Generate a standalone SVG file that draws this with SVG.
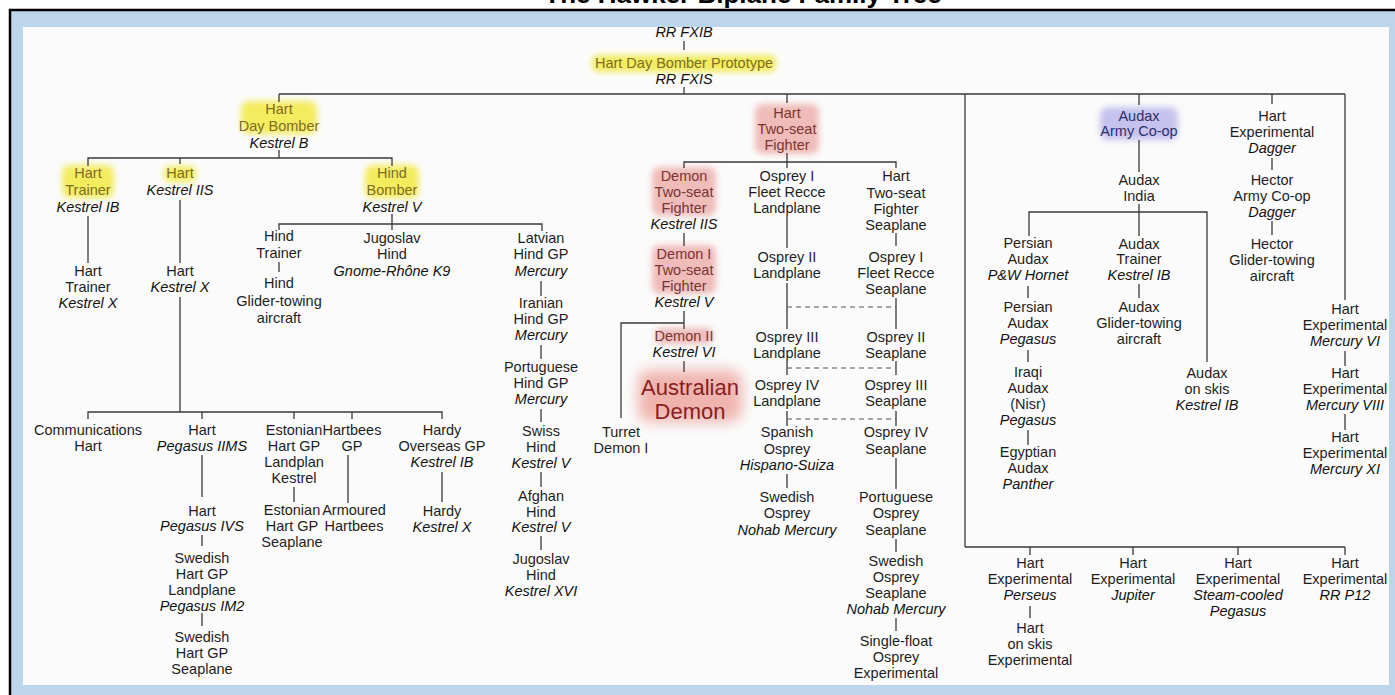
<svg xmlns="http://www.w3.org/2000/svg" width="1395" height="695" viewBox="0 0 1395 695">
<defs>
<style>
.t{font-family:"Liberation Sans",Arial,sans-serif;font-size:14.5px;fill:#1e1e1e;text-anchor:middle}
.i{font-style:italic;fill:#111}
.y{fill:#7f6c22}
.p{fill:#7b3434}
.b{fill:#2e2f6b}
.ln{fill:none;stroke:#3a3a3a;stroke-width:1.3}
.ds{fill:none;stroke:#555;stroke-width:1.2;stroke-dasharray:5 4}
.hy{fill:#f3ec5e;filter:url(#glow)}
.hp{fill:#efbcb9;filter:url(#glow)}
.hb{fill:#c6c2ee;filter:url(#glow)}
</style>
<filter id="glow" x="-50%" y="-50%" width="200%" height="200%"><feGaussianBlur stdDeviation="3"/></filter>
<filter id="glow2" x="-50%" y="-50%" width="200%" height="200%"><feGaussianBlur stdDeviation="7"/></filter>
<clipPath id="inner"><rect x="23" y="27" width="1366" height="658"/></clipPath>
</defs>
<rect x="0" y="0" width="1395" height="695" fill="#ffffff"/>
<text x="743" y="3" style="font-family:'Liberation Sans',Arial,sans-serif;font-size:26px;font-weight:bold;fill:#000;text-anchor:middle">The Hawker Biplane Family Tree</text>
<rect x="10" y="10" width="1400" height="700" fill="#bdd5ea" stroke="#000" stroke-width="2.5"/>
<rect x="23" y="27" width="1366" height="658" fill="#fbfbfb"/>
<g clip-path="url(#inner)">
<g id="highlights">
<rect class="hy" x="592" y="55" width="184" height="17" rx="6"/>
<rect class="hy" x="241" y="101" width="76" height="33" rx="8"/>
<rect class="hy" x="62" y="165" width="52" height="33" rx="8"/>
<rect class="hy" x="164" y="166" width="32" height="16" rx="6"/>
<rect class="hy" x="365" y="165" width="54" height="33" rx="8"/>
<rect class="hp" x="755" y="104" width="64" height="50" rx="8"/>
<rect class="hp" x="652" y="167" width="64" height="49" rx="8"/>
<rect class="hp" x="652" y="245" width="64" height="49" rx="8"/>
<rect class="hp" x="655" y="328" width="58" height="16" rx="6"/>
<rect x="638" y="370" width="104" height="52" rx="12" fill="#efb4ae" filter="url(#glow2)"/>
<rect class="hb" x="1100" y="107" width="78" height="33" rx="8"/>
</g>
<g id="connectors">
<path class="ln" d="M684 41V50M684 87V94M279 94H1345M279 94V102M787 94V103M965 94V547M1139 94V105M1272 94V104M1345 94V300"/>
<path class="ln" d="M279 150V158M88 166V158H392V166M180 158V164M392 214V224M279 230V224H542V231M392 224V230M88 216V263M180 200V263M279 262V272M180 297V412M88 419V412H442V419M202 412V419M294 412V419M352 412V419M202 455V497M294 487V502M348 455V503M442 472V502M202 535V546M202 613V626M541 281V296M541 345V359M541 409V422M541 472V487M541 536V550"/>
<path class="ln" d="M787 153V162M684 168V162H896V168M787 162V168M684 233V246M684 311V329M684 323H621V418M684 361V372M787 216V248M787 283V329M787 361V375M787 411V426M787 474V488M896 233V246M896 298V329M896 361V375M896 411V426M896 458V489M896 539V552M896 618V631"/>
<path class="ds" d="M787 307H896M787 368H896M787 419H896"/>
<path class="ln" d="M1139 140V172M1139 204V236M1029 236V212H1207V362M1028 286V298M1028 350V362M1028 430V445M1139 284V298M1272 158V170M1272 221V235M1345 351V366M1345 414V430M965 547H1345M1030 547V555M1133 547V555M1238 547V555M1345 547V555M1030 606V618"/>
</g>
<g id="n-rr-fxib"><text class="t i" x="684" y="37">RR FXIB</text></g>
<g id="n-prototype"><text class="t"><tspan class="y" x="684" y="68">Hart Day Bomber Prototype</tspan><tspan class="i" x="684" y="84">RR FXIS</tspan></text></g>
<g id="n-hart-day-bomber"><text class="t"><tspan class="y" x="279" y="114">Hart</tspan><tspan class="y" x="279" y="131">Day Bomber</tspan><tspan class="i" x="279" y="148">Kestrel B</tspan></text></g>
<g id="n-hart-trainer-ib"><text class="t"><tspan class="y" x="88" y="178">Hart</tspan><tspan class="y" x="88" y="195">Trainer</tspan><tspan class="i" x="88" y="212">Kestrel IB</tspan></text></g>
<g id="n-hart-kestrel-iis"><text class="t"><tspan class="y" x="180" y="178">Hart</tspan><tspan class="i" x="180" y="195">Kestrel IIS</tspan></text></g>
<g id="n-hind-bomber"><text class="t"><tspan class="y" x="392" y="178">Hind</tspan><tspan class="y" x="392" y="195">Bomber</tspan><tspan class="i" x="392" y="212">Kestrel V</tspan></text></g>
<g id="n-hind-trainer"><text class="t"><tspan x="279" y="241">Hind</tspan><tspan x="279" y="258">Trainer</tspan></text></g>
<g id="n-hind-glider"><text class="t"><tspan x="279" y="288">Hind</tspan><tspan x="279" y="306">Glider-towing</tspan><tspan x="279" y="323">aircraft</tspan></text></g>
<g id="n-jugoslav-hind-k9"><text class="t"><tspan x="392" y="243">Jugoslav</tspan><tspan x="392" y="259">Hind</tspan><tspan class="i" x="392" y="276">Gnome-Rhône K9</tspan></text></g>
<g id="n-latvian"><text class="t"><tspan x="541" y="243">Latvian</tspan><tspan x="541" y="259">Hind GP</tspan><tspan class="i" x="541" y="276">Mercury</tspan></text></g>
<g id="n-iranian"><text class="t"><tspan x="541" y="308">Iranian</tspan><tspan x="541" y="324">Hind GP</tspan><tspan class="i" x="541" y="340">Mercury</tspan></text></g>
<g id="n-portuguese-hind"><text class="t"><tspan x="541" y="372">Portuguese</tspan><tspan x="541" y="388">Hind GP</tspan><tspan class="i" x="541" y="404">Mercury</tspan></text></g>
<g id="n-swiss"><text class="t"><tspan x="541" y="436">Swiss</tspan><tspan x="541" y="452">Hind</tspan><tspan class="i" x="541" y="468">Kestrel V</tspan></text></g>
<g id="n-afghan"><text class="t"><tspan x="541" y="501">Afghan</tspan><tspan x="541" y="517">Hind</tspan><tspan class="i" x="541" y="532">Kestrel V</tspan></text></g>
<g id="n-jugoslav-xvi"><text class="t"><tspan x="541" y="564">Jugoslav</tspan><tspan x="541" y="580">Hind</tspan><tspan class="i" x="541" y="596">Kestrel XVI</tspan></text></g>
<g id="n-hart-trainer-x"><text class="t"><tspan x="88" y="276">Hart</tspan><tspan x="88" y="292">Trainer</tspan><tspan class="i" x="88" y="308">Kestrel X</tspan></text></g>
<g id="n-hart-kestrel-x"><text class="t"><tspan x="180" y="276">Hart</tspan><tspan class="i" x="180" y="292">Kestrel X</tspan></text></g>
<g id="n-communications"><text class="t"><tspan x="88" y="435">Communications</tspan><tspan x="88" y="451">Hart</tspan></text></g>
<g id="n-hart-iims"><text class="t"><tspan x="202" y="435">Hart</tspan><tspan class="i" x="202" y="451">Pegasus IIMS</tspan></text></g>
<g id="n-estonian-land"><text class="t"><tspan x="294" y="435">Estonian</tspan><tspan x="294" y="451">Hart GP</tspan><tspan x="294" y="467">Landplan</tspan><tspan x="294" y="483">Kestrel</tspan></text></g>
<g id="n-hartbees"><text class="t"><tspan x="352" y="435">Hartbees</tspan><tspan x="352" y="451">GP</tspan></text></g>
<g id="n-hardy-overseas"><text class="t"><tspan x="442" y="435">Hardy</tspan><tspan x="442" y="451">Overseas GP</tspan><tspan class="i" x="442" y="467">Kestrel IB</tspan></text></g>
<g id="n-hart-ivs"><text class="t"><tspan x="202" y="516">Hart</tspan><tspan class="i" x="202" y="531">Pegasus IVS</tspan></text></g>
<g id="n-estonian-sea"><text class="t"><tspan x="292" y="515">Estonian</tspan><tspan x="292" y="531">Hart GP</tspan><tspan x="292" y="547">Seaplane</tspan></text></g>
<g id="n-armoured-hartbees"><text class="t"><tspan x="354" y="515">Armoured</tspan><tspan x="354" y="531">Hartbees</tspan></text></g>
<g id="n-hardy-x"><text class="t"><tspan x="442" y="516">Hardy</tspan><tspan class="i" x="442" y="532">Kestrel X</tspan></text></g>
<g id="n-swedish-hart-land"><text class="t"><tspan x="202" y="563">Swedish</tspan><tspan x="202" y="579">Hart GP</tspan><tspan x="202" y="595">Landplane</tspan><tspan class="i" x="202" y="611">Pegasus IM2</tspan></text></g>
<g id="n-swedish-hart-sea"><text class="t"><tspan x="202" y="642">Swedish</tspan><tspan x="202" y="658">Hart GP</tspan><tspan x="202" y="674">Seaplane</tspan></text></g>
<g id="n-hart-two-seat"><text class="t"><tspan class="p" x="787" y="118">Hart</tspan><tspan class="p" x="787" y="134">Two-seat</tspan><tspan class="p" x="787" y="150">Fighter</tspan></text></g>
<g id="n-demon"><text class="t"><tspan class="p" x="684" y="181">Demon</tspan><tspan class="p" x="684" y="197">Two-seat</tspan><tspan class="p" x="684" y="213">Fighter</tspan><tspan class="i" x="684" y="229">Kestrel IIS</tspan></text></g>
<g id="n-demon-i"><text class="t"><tspan class="p" x="684" y="259">Demon I</tspan><tspan class="p" x="684" y="275">Two-seat</tspan><tspan class="p" x="684" y="291">Fighter</tspan><tspan class="i" x="684" y="307">Kestrel V</tspan></text></g>
<g id="n-demon-ii"><text class="t"><tspan class="p" x="684" y="341">Demon II</tspan><tspan class="i" x="684" y="357">Kestrel VI</tspan></text></g>
<g id="n-australian-demon"><text style="font-family:'Liberation Sans',Arial,sans-serif;font-size:22px;fill:#8a1d1d;text-anchor:middle"><tspan x="690" y="395">Australian</tspan><tspan x="690" y="419">Demon</tspan></text></g>
<g id="n-turret-demon"><text class="t"><tspan x="621" y="437">Turret</tspan><tspan x="621" y="453">Demon I</tspan></text></g>
<g id="n-osprey-i-land"><text class="t"><tspan x="787" y="181">Osprey I</tspan><tspan x="787" y="197">Fleet Recce</tspan><tspan x="787" y="213">Landplane</tspan></text></g>
<g id="n-osprey-ii-land"><text class="t"><tspan x="787" y="262">Osprey II</tspan><tspan x="787" y="278">Landplane</tspan></text></g>
<g id="n-osprey-iii-land"><text class="t"><tspan x="787" y="342">Osprey III</tspan><tspan x="787" y="358">Landplane</tspan></text></g>
<g id="n-osprey-iv-land"><text class="t"><tspan x="787" y="390">Osprey IV</tspan><tspan x="787" y="406">Landplane</tspan></text></g>
<g id="n-spanish-osprey"><text class="t"><tspan x="787" y="437">Spanish</tspan><tspan x="787" y="454">Osprey</tspan><tspan class="i" x="787" y="470">Hispano-Suiza</tspan></text></g>
<g id="n-swedish-osprey"><text class="t"><tspan x="787" y="502">Swedish</tspan><tspan x="787" y="518">Osprey</tspan><tspan class="i" x="787" y="535">Nohab Mercury</tspan></text></g>
<g id="n-hart-seaplane"><text class="t"><tspan x="896" y="181">Hart</tspan><tspan x="896" y="198">Two-seat</tspan><tspan x="896" y="214">Fighter</tspan><tspan x="896" y="230">Seaplane</tspan></text></g>
<g id="n-osprey-i-sea"><text class="t"><tspan x="896" y="262">Osprey I</tspan><tspan x="896" y="278">Fleet Recce</tspan><tspan x="896" y="294">Seaplane</tspan></text></g>
<g id="n-osprey-ii-sea"><text class="t"><tspan x="896" y="342">Osprey II</tspan><tspan x="896" y="358">Seaplane</tspan></text></g>
<g id="n-osprey-iii-sea"><text class="t"><tspan x="896" y="390">Osprey III</tspan><tspan x="896" y="406">Seaplane</tspan></text></g>
<g id="n-osprey-iv-sea"><text class="t"><tspan x="896" y="437">Osprey IV</tspan><tspan x="896" y="454">Seaplane</tspan></text></g>
<g id="n-portuguese-osprey"><text class="t"><tspan x="896" y="502">Portuguese</tspan><tspan x="896" y="518">Osprey</tspan><tspan x="896" y="535">Seaplane</tspan></text></g>
<g id="n-swedish-osprey-sea"><text class="t"><tspan x="896" y="566">Swedish</tspan><tspan x="896" y="582">Osprey</tspan><tspan x="896" y="598">Seaplane</tspan><tspan class="i" x="896" y="614">Nohab Mercury</tspan></text></g>
<g id="n-single-float"><text class="t"><tspan x="896" y="646">Single-float</tspan><tspan x="896" y="662">Osprey</tspan><tspan x="896" y="678">Experimental</tspan></text></g>
<g id="n-audax-army"><text class="t"><tspan class="b" x="1139" y="121">Audax</tspan><tspan class="b" x="1139" y="136">Army Co-op</tspan></text></g>
<g id="n-audax-india"><text class="t"><tspan x="1139" y="185">Audax</tspan><tspan x="1139" y="201">India</tspan></text></g>
<g id="n-persian-hornet"><text class="t"><tspan x="1028" y="248">Persian</tspan><tspan x="1028" y="264">Audax</tspan><tspan class="i" x="1028" y="280">P&amp;W Hornet</tspan></text></g>
<g id="n-persian-pegasus"><text class="t"><tspan x="1028" y="312">Persian</tspan><tspan x="1028" y="328">Audax</tspan><tspan class="i" x="1028" y="344">Pegasus</tspan></text></g>
<g id="n-iraqi"><text class="t"><tspan x="1028" y="377">Iraqi</tspan><tspan x="1028" y="393">Audax</tspan><tspan x="1028" y="409">(Nisr)</tspan><tspan class="i" x="1028" y="425">Pegasus</tspan></text></g>
<g id="n-egyptian"><text class="t"><tspan x="1028" y="457">Egyptian</tspan><tspan x="1028" y="473">Audax</tspan><tspan class="i" x="1028" y="489">Panther</tspan></text></g>
<g id="n-audax-trainer"><text class="t"><tspan x="1139" y="249">Audax</tspan><tspan x="1139" y="264">Trainer</tspan><tspan class="i" x="1139" y="280">Kestrel IB</tspan></text></g>
<g id="n-audax-glider"><text class="t"><tspan x="1139" y="312">Audax</tspan><tspan x="1139" y="328">Glider-towing</tspan><tspan x="1139" y="344">aircraft</tspan></text></g>
<g id="n-audax-skis"><text class="t"><tspan x="1207" y="378">Audax</tspan><tspan x="1207" y="394">on skis</tspan><tspan class="i" x="1207" y="410">Kestrel IB</tspan></text></g>
<g id="n-hart-dagger"><text class="t"><tspan x="1272" y="121">Hart</tspan><tspan x="1272" y="137">Experimental</tspan><tspan class="i" x="1272" y="153">Dagger</tspan></text></g>
<g id="n-hector-army"><text class="t"><tspan x="1272" y="185">Hector</tspan><tspan x="1272" y="201">Army Co-op</tspan><tspan class="i" x="1272" y="217">Dagger</tspan></text></g>
<g id="n-hector-glider"><text class="t"><tspan x="1272" y="249">Hector</tspan><tspan x="1272" y="265">Glider-towing</tspan><tspan x="1272" y="281">aircraft</tspan></text></g>
<g id="n-hart-mercury-vi"><text class="t"><tspan x="1345" y="314">Hart</tspan><tspan x="1345" y="330">Experimental</tspan><tspan class="i" x="1345" y="346">Mercury VI</tspan></text></g>
<g id="n-hart-mercury-viii"><text class="t"><tspan x="1345" y="378">Hart</tspan><tspan x="1345" y="394">Experimental</tspan><tspan class="i" x="1345" y="410">Mercury VIII</tspan></text></g>
<g id="n-hart-mercury-xi"><text class="t"><tspan x="1345" y="442">Hart</tspan><tspan x="1345" y="458">Experimental</tspan><tspan class="i" x="1345" y="474">Mercury XI</tspan></text></g>
<g id="n-hart-perseus"><text class="t"><tspan x="1030" y="568">Hart</tspan><tspan x="1030" y="584">Experimental</tspan><tspan class="i" x="1030" y="600">Perseus</tspan></text></g>
<g id="n-hart-skis"><text class="t"><tspan x="1030" y="633">Hart</tspan><tspan x="1030" y="649">on skis</tspan><tspan x="1030" y="665">Experimental</tspan></text></g>
<g id="n-hart-jupiter"><text class="t"><tspan x="1133" y="568">Hart</tspan><tspan x="1133" y="584">Experimental</tspan><tspan class="i" x="1133" y="600">Jupiter</tspan></text></g>
<g id="n-hart-steam"><text class="t"><tspan x="1238" y="568">Hart</tspan><tspan x="1238" y="584">Experimental</tspan><tspan class="i" x="1238" y="600">Steam-cooled</tspan><tspan class="i" x="1238" y="616">Pegasus</tspan></text></g>
<g id="n-hart-rrp12"><text class="t"><tspan x="1345" y="568">Hart</tspan><tspan x="1345" y="584">Experimental</tspan><tspan class="i" x="1345" y="600">RR P12</tspan></text></g>
</g>
</svg>
